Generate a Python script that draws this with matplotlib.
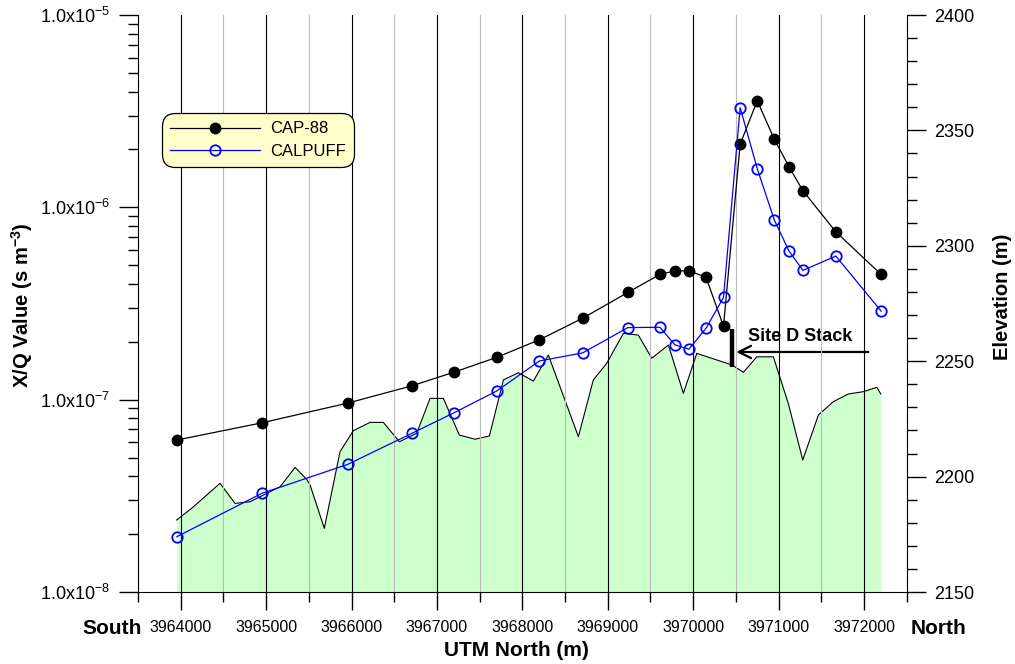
import matplotlib
matplotlib.use("Agg")
import matplotlib.pyplot as plt
from matplotlib.ticker import MultipleLocator, FuncFormatter, LogLocator, NullFormatter
import numpy as np

plt.rcParams['font.family'] = ['Liberation Sans', 'DejaVu Sans']
plt.rcParams['mathtext.fontset'] = 'custom'
plt.rcParams['mathtext.rm'] = 'Liberation Sans'
plt.rcParams['mathtext.it'] = 'Liberation Sans:italic'
plt.rcParams['mathtext.bf'] = 'Liberation Sans:bold'

# ---- data ----
receptor_x = [3963955, 3964950, 3965955, 3966705, 3967200, 3967700, 3968200,
              3968705, 3969235, 3969610, 3969785, 3969950, 3970150, 3970355,
              3970550, 3970750, 3970950, 3971120, 3971285, 3971670, 3972200]
cap88 = [6.17e-8, 7.58e-8, 9.60e-8, 1.18e-7, 1.39e-7, 1.66e-7, 2.05e-7,
         2.65e-7, 3.61e-7, 4.48e-7, 4.67e-7, 4.68e-7, 4.33e-7, 2.41e-7,
         2.13e-6, 3.58e-6, 2.26e-6, 1.63e-6, 1.22e-6, 7.46e-7, 4.48e-7]
calpuff = [1.94e-8, 3.26e-8, 4.61e-8, 6.68e-8, 8.55e-8, 1.11e-7, 1.59e-7,
           1.75e-7, 2.37e-7, 2.38e-7, 1.93e-7, 1.83e-7, 2.35e-7, 3.40e-7,
           3.30e-6, 1.59e-6, 8.59e-7, 5.95e-7, 4.70e-7, 5.58e-7, 2.89e-7]

terrain_x = [3963953, 3964129, 3964460, 3964636, 3964811, 3964929, 3965163,
             3965339, 3965475, 3965514, 3965681, 3965865, 3966021, 3966217,
             3966372, 3966560, 3966763, 3966919, 3967075, 3967262, 3967446,
             3967614, 3967778, 3967953, 3968129, 3968304, 3968656, 3968831,
             3968988, 3969183, 3969358, 3969515, 3969710, 3969885, 3970042,
             3970452, 3970588, 3970745, 3970939, 3971115, 3971283, 3971466,
             3971642, 3971817, 3971993, 3972150, 3972197]
terrain_elev = [2181.2, 2186.3, 2197.1, 2188.4, 2189.1, 2191.3, 2195.6,
                2204.0, 2198.8, 2196.4, 2177.6, 2210.8, 2219.9, 2223.5,
                2223.5, 2215.1, 2218.8, 2233.9, 2233.9, 2218.0, 2216.2,
                2217.6, 2241.9, 2245.0, 2241.4, 2252.7, 2217.3, 2241.9,
                2249.1, 2262.1, 2261.3, 2251.3, 2257.0, 2236.1, 2253.4,
                2248.4, 2245.2, 2251.9, 2251.9, 2231.5, 2207.2, 2226.7,
                2232.5, 2235.8, 2236.8, 2238.7, 2235.8]

stack_x = 3970450
stack_elev = [2247.6, 2263.8]
arrow_from = (3972050, 2254.0)
arrow_to = (3970505, 2254.0)
stack_label = "Site D Stack"

series_names = ["CAP-88", "CALPUFF"]

# ---- figure ----
fig = plt.figure(figsize=(10.15, 6.64), dpi=100)
ax = fig.add_axes([0.136, 0.1084, 0.7573, 0.869])
ax2 = ax.twinx()
ax.set_zorder(ax2.get_zorder() + 1)
ax.patch.set_visible(False)

# terrain on elevation axis
ax2.fill_between(terrain_x, terrain_elev, 2150, color='#CCFFCC', lw=0, zorder=1)
ax2.plot(terrain_x, terrain_elev, color='black', lw=0.8, zorder=2)
ax2.set_ylim(2150, 2400)
ax2.yaxis.set_major_locator(MultipleLocator(50))
ax2.yaxis.set_minor_locator(MultipleLocator(10))
ax2.tick_params(axis='y', which='major', direction='out', length=14, width=1,
                labelsize=13, pad=6)
ax2.tick_params(axis='y', which='minor', direction='out', length=7, width=1)

# stack marker and arrow
ax2.plot([stack_x, stack_x], stack_elev, color='black', lw=3.2,
         solid_capstyle='butt', zorder=5)
ax2.annotate('', xy=arrow_to, xytext=arrow_from,
             arrowprops=dict(arrowstyle='->', lw=1.6, color='black',
                             mutation_scale=22, shrinkA=0, shrinkB=0),
             zorder=5)
ax2.text(3970640, 2260.9, stack_label, fontsize=13, fontweight='bold',
         ha='left', va='center')

# concentrations
ax.set_yscale('log')
ax.plot(receptor_x, cap88, color='black', lw=0.9, marker='o', ms=7.5,
        mfc='black', mec='black', label=series_names[0], zorder=3)
ax.plot(receptor_x, calpuff, color='#0000FF', lw=0.9, marker='o', ms=7.5,
        mfc='none', mec='#0000FF', mew=1.3, label=series_names[1], zorder=3)
ax.set_ylim(1e-8, 1e-5)
ax.set_xlim(3963500, 3972500)

ax.yaxis.set_major_locator(LogLocator(base=10, numticks=10))
ax.yaxis.set_minor_locator(LogLocator(base=10, subs=np.arange(2, 10), numticks=10))
ax.yaxis.set_minor_formatter(NullFormatter())
ax.yaxis.set_major_formatter(FuncFormatter(
    lambda v, p: r'1.0x10$^{\mathregular{%d}}$' % int(round(np.log10(v)))))
ax.tick_params(axis='y', which='major', direction='out', length=14, width=1,
               labelsize=13, pad=6)
ax.tick_params(axis='y', which='minor', direction='out', length=7, width=1)

ax.xaxis.set_major_locator(MultipleLocator(1000))
ax.xaxis.set_minor_locator(MultipleLocator(500))
ax.xaxis.set_major_formatter(FuncFormatter(lambda v, p: '%d' % v))
ax.tick_params(axis='x', which='major', direction='out', length=13, width=1,
               labelsize=11.5, pad=7)
ax.tick_params(axis='x', which='minor', direction='out', length=7, width=1)

ax.grid(True, axis='x', which='major', color='black', lw=0.8)
ax.grid(True, axis='x', which='minor', color='#BBBBBB', lw=0.8)

for a in (ax, ax2):
    a.spines['top'].set_visible(False)
ax.spines['right'].set_visible(False)
ax2.spines['left'].set_visible(False)
ax2.spines['bottom'].set_visible(False)

leg = ax.legend(loc='upper left', bbox_to_anchor=(0.031, 0.830),
                borderaxespad=0, fontsize=12, handlelength=5.4,
                handletextpad=0.6, numpoints=1, fancybox=True,
                framealpha=1, borderpad=0.5, labelspacing=0.45)
leg.get_frame().set_facecolor('#FFFFCC')
leg.get_frame().set_edgecolor('black')
leg.get_frame().set_linewidth(0.9)
leg.get_frame().set_boxstyle('round', pad=0, rounding_size=0.8)

# axis labels
fig.text(516 / 1015, 1 - 651 / 664, 'UTM North (m)', fontsize=15,
         fontweight='bold', ha='center', va='center')
fig.text(112 / 1015, 1 - 629 / 664, 'South', fontsize=15,
         fontweight='bold', ha='center', va='center')
fig.text(938 / 1015, 1 - 629 / 664, 'North', fontsize=15,
         fontweight='bold', ha='center', va='center')
fig.text(22 / 1015, 1 - 305 / 664, r'X/Q Value (s m$^{\mathbf{-3}}$)', fontsize=14.5,
         fontweight='bold', rotation=90, ha='center', va='center')
fig.text(1003 / 1015, 1 - 297 / 664, 'Elevation (m)', fontsize=14.5,
         fontweight='bold', rotation=90, ha='center', va='center')

fig.savefig('out.png', dpi=100)
